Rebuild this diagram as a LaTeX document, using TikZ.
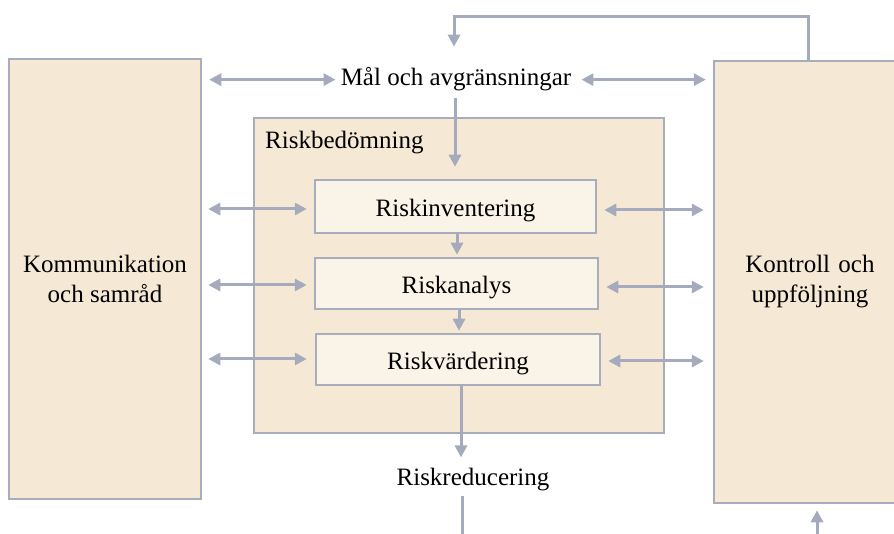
\documentclass[tikz,border=0pt]{standalone}
\usepackage{fontspec}
\setmainfont{Liberation Serif}
\usetikzlibrary{arrows.meta,positioning,calc}
\definecolor{bordergray}{RGB}{168,173,190}
\definecolor{arrgray}{RGB}{165,171,188}
\definecolor{beige}{RGB}{245,233,213}
\definecolor{lightbeige}{RGB}{250,243,232}
\begin{document}
\begin{tikzpicture}[x=1pt,y=-1pt,
  kbox/.style={draw=bordergray,line width=2.5pt,fill=beige,inner sep=0pt,align=center,
    font=\fontsize{25}{30}\selectfont},
  ibox/.style={draw=bordergray,line width=2.5pt,fill=lightbeige,inner sep=0pt,
    text height=20pt,text depth=0pt,
    font=\fontsize{25}{30}\selectfont},
  lbl/.style={inner sep=2pt,font=\fontsize{25}{30}\selectfont},
  arr/.style={draw=arrgray,line width=3pt,-{Triangle[length=12pt,width=12pt]}},
  darr/.style={draw=arrgray,line width=3pt,{Triangle[length=12pt,width=12pt]}-{Triangle[length=12pt,width=12pt]}},
  plain/.style={draw=arrgray,line width=3pt}]
\useasboundingbox (0,0) rectangle (894,534);
% large side boxes
\node[kbox,minimum width=192,minimum height=440] (komm) at (105,279) {Kommunikation\\och samråd};
\node[kbox,minimum width=192,minimum height=442,text width=180] (kontr) at (810,282) {Kontroll och\\uppföljning};
% riskbedomning container
\node[kbox,minimum width=410,minimum height=315] (bed) at (459,275.5) {};
\node[lbl,anchor=base west] (bedlbl) at (263,149) {Riskbedömning};
% inner boxes
\node[ibox,minimum width=281,minimum height=53] (inv) at (455.5,206.5) {Riskinventering};
\node[ibox,minimum width=283,minimum height=51] (ana) at (456.5,283.5) {Riskanalys};
\node[ibox,minimum width=284,minimum height=51] (var) at (458,359.5) {Riskvärdering};
% free labels
\node[lbl,anchor=base] (mal) at (456,86) {Mål och avgränsningar};
\node[lbl,anchor=base] (red) at (473,485) {Riskreducering};
\coordinate (redend) at (462,540);
\coordinate (kbot) at (817,540);
% top loop
\draw[arr] (kontr.north -| 808,0) -- (808,17) -| ([yshift=19pt]mal.north -| 454,0);
% Mal arrows
\draw[darr] ([xshift=7pt]komm.east |- mal.west) -- ([xshift=-3pt]mal.west);
\draw[darr] ([xshift=8pt]mal.east) -- ([xshift=-7pt]kontr.west |- mal.east);
\draw[arr] ([yshift=-4pt]mal.south -| 455,0) -- ([yshift=12pt]inv.north -| 455,0);
% left arrows
\draw[darr] ([xshift=6pt]komm.east |- 0,209) -- ([xshift=-7pt]inv.west |- 0,209);
\draw[darr] ([xshift=6pt]komm.east |- 0,285) -- ([xshift=-7pt]ana.west |- 0,285);
\draw[darr] ([xshift=6pt]komm.east |- 0,359) -- ([xshift=-8pt]var.west |- 0,359);
% right arrows
\draw[darr] ([xshift=7pt]inv.east |- 0,210) -- ([xshift=-9pt]kontr.west |- 0,210);
\draw[darr] ([xshift=7pt]ana.east |- 0,287) -- ([xshift=-9pt]kontr.west |- 0,287);
\draw[darr] ([xshift=7pt]var.east |- 0,361) -- ([xshift=-9pt]kontr.west |- 0,361);
% chain arrows
\draw[arr] (inv.south -| 457,0) -- ([yshift=2pt]ana.north -| 457,0);
\draw[arr] (ana.south -| 459,0) -- ([yshift=2pt]var.north -| 459,0);
\draw[arr] (var.south -| 461,0) -- ([yshift=8pt]red.north -| 461,0);
\draw[plain] ([yshift=-3pt]red.south -| 462,0) -- (redend);
\draw[arr] (kbot) -- ([yshift=-6pt]kontr.south -| 817,0);
\end{tikzpicture}
\end{document}
